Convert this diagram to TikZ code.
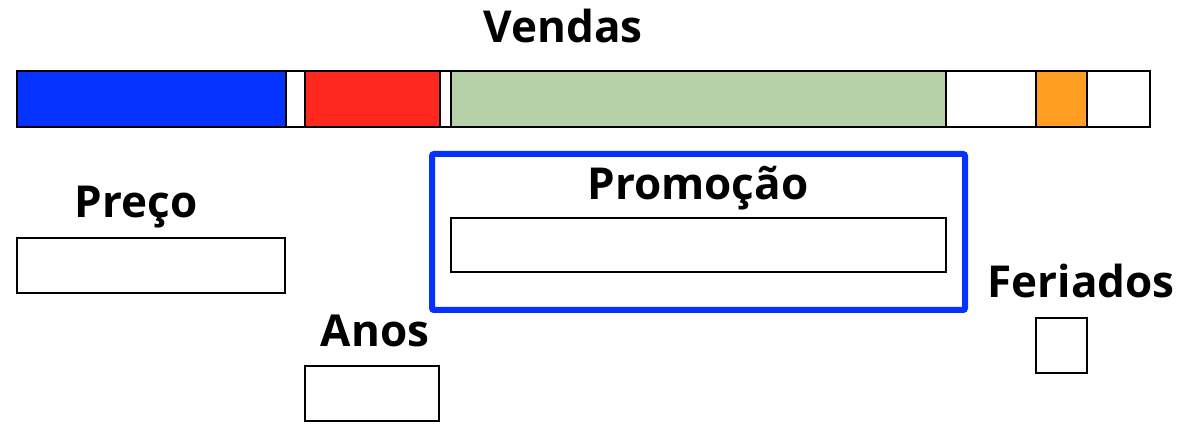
\documentclass[tikz,border=0pt]{standalone}
\usepackage{fontspec}
\setmainfont{Open Sans}
\definecolor{vblue}{RGB}{5,50,255}
\definecolor{vred}{RGB}{255,40,30}
\definecolor{vgreen}{RGB}{182,209,168}
\definecolor{vorange}{RGB}{255,158,33}
\tikzset{
  seg/.style={draw=black, line width=1.6pt, inner sep=0pt, outer sep=0pt, minimum height=56pt, anchor=west},
  campo/.style={draw=black, line width=1.6pt, inner sep=0pt, outer sep=0pt, anchor=north west},
  rotulo/.style={font=\fontsize{44}{50}\selectfont\bfseries, inner sep=0pt, anchor=base}
}
\begin{document}
\begin{tikzpicture}[x=1pt, y=-1pt]
        \useasboundingbox (0,0) rectangle (1187,438);

        % Barra das vendas
        \node[seg, fill=vblue, minimum width=269pt] (azul) at (17,99) {};
        \node[seg, fill=white, minimum width=19pt] (vazio1) at (azul.east) {};
        \node[seg, fill=vred, minimum width=135pt] (vermelho) at (vazio1.east) {};
        \node[seg, fill=white, minimum width=11pt] (vazio2) at (vermelho.east) {};
        \node[seg, fill=vgreen, minimum width=495pt] (verde) at (vazio2.east) {};
        \node[seg, fill=white, minimum width=90pt] (vazio3) at (verde.east) {};
        \node[seg, fill=vorange, minimum width=51pt] (laranja) at (vazio3.east) {};
        \node[seg, fill=white, minimum width=63pt] (vazio4) at (laranja.east) {};
        \node[rotulo] (vendas) at (563,43) {Vendas};

        % Promocao
        \draw[vblue, line width=6pt, rounded corners=2pt] (432,154) rectangle (965,310);
        \node[rotulo] (promocao) at (698,200) {Promoção};
        \node[campo, minimum width=495pt, minimum height=54pt] (cpromocao) at (451,218) {};

        % Preco
        \node[rotulo] (preco) at (136,218) {Preço};
        \node[campo, minimum width=268pt, minimum height=55pt] (cpreco) at (17,238) {};

        % Anos
        \node[rotulo] (anos) at (375,347) {Anos};
        \node[campo, minimum width=134pt, minimum height=55pt] (canos) at (305,366) {};

        % Feriados
        \node[rotulo] (feriados) at (1081,298) {Feriados};
        \node[campo, minimum width=51pt, minimum height=55pt] (cferiados) at (1036,318) {};
\end{tikzpicture}
\end{document}
